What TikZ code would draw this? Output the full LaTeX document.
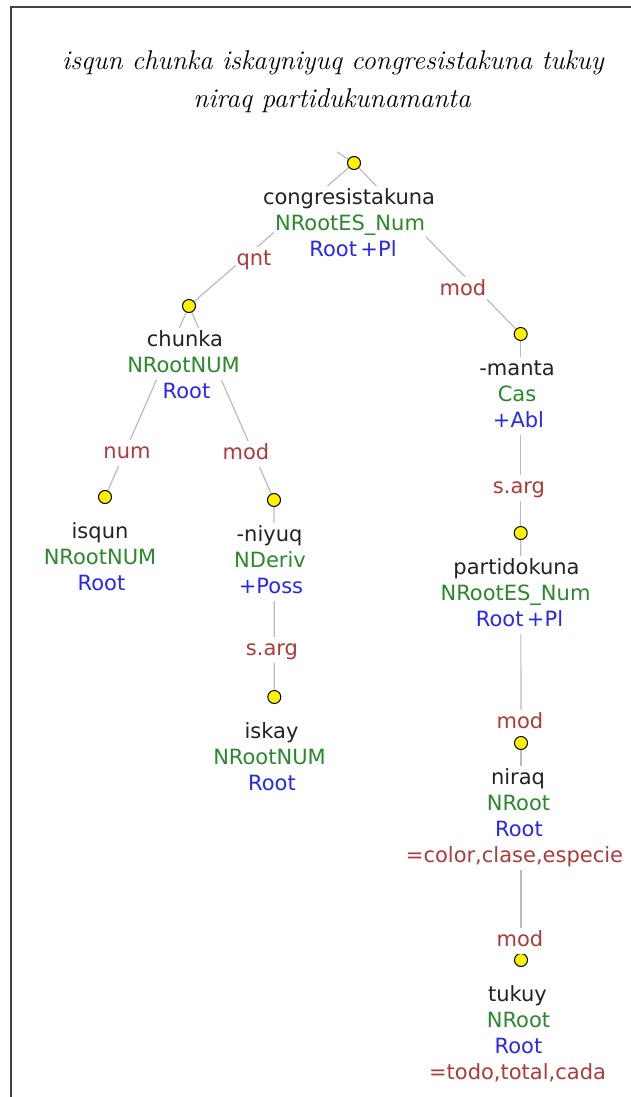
\documentclass[tikz,border=0pt]{standalone}
\usepackage{fontspec}
\newfontfamily\dvs{DejaVu Sans}
\usetikzlibrary{backgrounds}
\definecolor{wordc}{HTML}{222222}
\definecolor{catc}{HTML}{2B882B}
\definecolor{featc}{HTML}{2626F5}
\definecolor{labc}{HTML}{B03A3A}
\definecolor{linkc}{HTML}{BBBBBB}
\definecolor{framec}{HTML}{444444}
\tikzset{
  tline/.style={font=\dvs\fontsize{21}{26}\selectfont, fill=white, inner xsep=1pt, inner ysep=3pt, text height=15pt, text depth=5pt, anchor=base},
  wline/.style={tline, text=wordc},
  cline/.style={tline, text=catc},
  fline/.style={tline, text=featc},
  gline/.style={tline, text=labc},
  rlab/.style={tline, text=labc},
  ydot/.style={circle, draw=black, fill=yellow, line width=1pt, inner sep=0pt, minimum size=13pt},
  link/.style={draw=linkc, line width=1.2pt},
  ttl/.style={font=\itshape\fontsize{27.1}{38}\selectfont, anchor=base, inner sep=0pt},
  framel/.style={draw=framec, line width=1.4pt},
}
\begin{document}
\begin{tikzpicture}[x=1pt,y=-1pt]
\useasboundingbox (0,0) rectangle (630,1097);
\draw[framel] (11,1105) -- (11,7) -- (640,7);

\node[ttl] (ttl1) at (333,70) {isqun chunka iskayniyuq congresistakuna tukuy};
\node[ttl] (ttl2) at (332,108) {niraq partidukunamanta};

\coordinate (r0) at (337,152);
% congresistakuna
\node[ydot] (d1) at (354,163) {};
\node[wline] (t1a) at (349,204) {congresistakuna};
\node[cline] (t1b) at (350,230) {NRootES\_Num};
\node[fline] (t1c) at (353,256) {Root\,+Pl};
% chunka
\node[ydot] (d2) at (189,306) {};
\node[wline] (t2a) at (185,346) {chunka};
\node[cline] (t2b) at (183.5,372) {NRootNUM};
\node[fline] (t2c) at (186.5,398) {Root};
% isqun
\node[ydot] (d3) at (105,497) {};
\node[wline] (t3a) at (100,538) {isqun};
\node[cline] (t3b) at (100,564) {NRootNUM};
\node[fline] (t3c) at (101.5,590) {Root};
% -niyuq
\node[ydot] (d4) at (274,500) {};
\node[wline] (t4a) at (269.5,541) {-niyuq};
\node[cline] (t4b) at (270,567) {NDeriv};
\node[fline] (t4c) at (271,593) {+Poss};
% iskay
\node[ydot] (d5) at (274.3,697) {};
\node[wline] (t5a) at (271.5,738) {iskay};
\node[cline] (t5b) at (269.5,764) {NRootNUM};
\node[fline] (t5c) at (272,790) {Root};
% -manta
\node[ydot] (d6) at (520.7,334) {};
\node[wline] (t6a) at (517,375) {-manta};
\node[cline] (t6b) at (517,401) {Cas};
\node[fline] (t6c) at (518.5,427) {+Abl};
% partidokuna
\node[ydot] (d7) at (520.7,533) {};
\node[wline] (t7a) at (516.5,574) {partidokuna};
\node[cline] (t7b) at (515.5,600) {NRootES\_Num};
\node[fline] (t7c) at (519.5,626) {Root\,+Pl};
% niraq
\node[ydot] (d8) at (521,743) {};
\node[wline] (t8a) at (518,784) {niraq};
\node[cline] (t8b) at (518.5,810) {NRoot};
\node[fline] (t8c) at (519,836) {Root};
\node[gline] (t8d) at (514.5,862) {=color,clase,especie};
% tukuy
\node[ydot] (d9) at (521,960) {};
\node[wline] (t9a) at (517.5,1001) {tukuy};
\node[cline] (t9b) at (518.5,1027) {NRoot};
\node[fline] (t9c) at (518.5,1053) {Root};
\node[gline] (t9d) at (517.5,1079) {=todo,total,cada};

% relation labels
\node[rlab] (l1) at (254,265) {qnt};
\node[rlab] (l2) at (463,295) {mod};
\node[rlab] (l3) at (127,458) {num};
\node[rlab] (l4) at (246,459) {mod};
\node[rlab] (l5) at (272,655) {s.arg};
\node[rlab] (l6) at (519,493) {s.arg};
\node[rlab] (l7) at (520,728) {mod};
\node[rlab] (l8) at (520,946) {mod};

\begin{scope}[on background layer]
\draw[link] (r0) -- (d1);
\draw[link] (d1) -- (d2);
\draw[link] (d1) -- (d6);
\draw[link] (d2) -- (d3);
\draw[link] (d2) -- (d4);
\draw[link] (d4) -- (d5);
\draw[link] (d6) -- (d7);
\draw[link] (d7) -- (d8);
\draw[link] (d8) -- (d9);
\end{scope}
\end{tikzpicture}
\end{document}
